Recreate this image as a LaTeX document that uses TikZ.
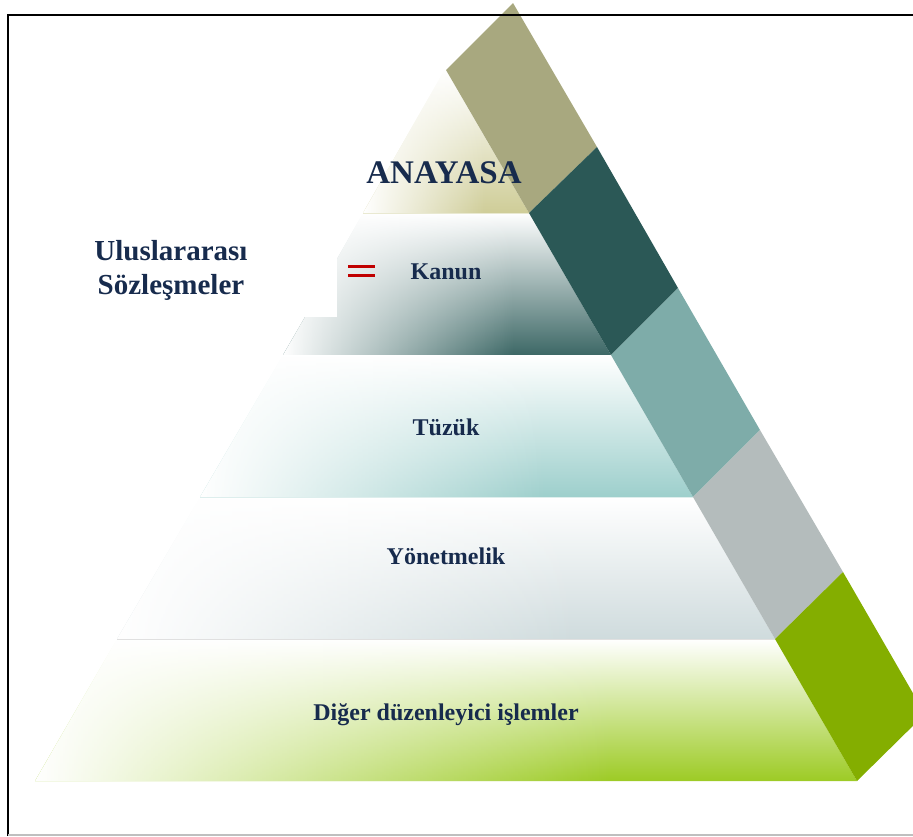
\documentclass[tikz,border=0pt]{standalone}
\usepackage{fontspec}
\setmainfont{Liberation Serif}
\usetikzlibrary{fadings}
\definecolor{navy}{HTML}{172B4D}
\definecolor{olive}{HTML}{A8A87F}
\definecolor{darkteal}{HTML}{2B5856}
\definecolor{midteal}{HTML}{7EACA9}
\definecolor{stripgrey}{HTML}{B4BCBC}
\definecolor{stripgreen}{HTML}{84AE00}
\definecolor{bandA}{HTML}{CFCD98}
\definecolor{bandK}{HTML}{3D6866}
\definecolor{bandT}{HTML}{9DCFCC}
\definecolor{bandY}{HTML}{CFDBDD}
\definecolor{bandD}{HTML}{9DCB25}
\definecolor{redeq}{HTML}{C00000}
\tikzfading[name=hfade, left color=transparent!0, right color=transparent!100]
% #1 path, #2 colour, #3 fade start x, #4 fade end x, #5 top y, #6 bottom y
\newcommand\pyrband[6]{%
  \shade[top color=white, middle color=#2!40, bottom color=#2] #1;
  \begin{scope}
    \clip #1;
    \fill[white, path fading=hfade] (#3,#5) rectangle (#4,#6);
  \end{scope}
}
\begin{document}
\begin{tikzpicture}[x=1pt,y=-1pt,
  lbl/.style={font=\bfseries\fontsize{24}{28}\selectfont, text=navy, inner sep=0pt, anchor=base},
  biglbl/.style={font=\bfseries\fontsize{33}{37}\selectfont, text=navy, inner sep=0pt, anchor=base},
  sidelbl/.style={font=\bfseries\fontsize{29}{33}\selectfont, text=navy, inner sep=0pt, anchor=base}]
\useasboundingbox (0,0) rectangle (913,836);

% pyramid bands
\pyrband{(445,69) -- (529,213) -- (363,213) -- cycle}{bandA}{363}{485}{69}{213}
\pyrband{(363,213) -- (529,213) -- (611,355) -- (283,355) -- (305,317) -- (337,317) -- (337,259) -- cycle}{bandK}{283}{513}{213}{355}
\pyrband{(283,355) -- (611,355) -- (693,497) -- (200,497) -- cycle}{bandT}{200}{545}{355}{497}
\pyrband{(200,497) -- (693,497) -- (775,639) -- (117,639) -- cycle}{bandY}{117}{578}{497}{639}
\pyrband{(117,639) -- (775,639) -- (857,781) -- (35,781) -- cycle}{bandD}{35}{610}{639}{781}

% thin separators
\draw[bandA!45, line width=0.8pt] (363,213.5) -- (529,213.5);
\draw[bandT!35, line width=0.8pt] (200,497.5) -- (693,497.5);
\draw[black!12, line width=0.8pt] (117,639.5) -- (775,639.5);

% coloured strip
\begin{scope}
\clip (0,0) rectangle (913,836);
\fill[olive]      (446,70)  -- (513,3)   -- (597,147) -- (529,213) -- cycle;
\fill[darkteal]   (529,213) -- (597,147) -- (678,288) -- (611,355) -- cycle;
\fill[midteal]    (611,355) -- (678,288) -- (760,430) -- (693,497) -- cycle;
\fill[stripgrey]  (693,497) -- (760,430) -- (843,572) -- (775,639) -- cycle;
\fill[stripgreen] (775,639) -- (843,572) -- (925,714) -- (857,781) -- cycle;
\end{scope}

% frame
\draw[black, line width=2.6pt] (8,836) -- (8,15) -- (913,15);
\draw[black!25, line width=1.2pt] (8,835) -- (913,835);

% red equals sign
\fill[redeq] (348,265) rectangle (375,268);
\fill[redeq] (348,273.5) rectangle (375,276.5);

% labels
\node[biglbl] (anayasa) at (444,183) {ANAYASA};
\node[lbl] (kanun) at (446,279) {Kanun};
\node[lbl] (tuzuk) at (446,435) {Tüzük};
\node[lbl] (yonet) at (446,564) {Yönetmelik};
\node[lbl] (diger) at (446,720) {Diğer düzenleyici işlemler};
\node[sidelbl] (ulus1) at (171,260) {Uluslararası};
\node[sidelbl] (ulus2) at (171,294) {Sözleşmeler};
\end{tikzpicture}
\end{document}
